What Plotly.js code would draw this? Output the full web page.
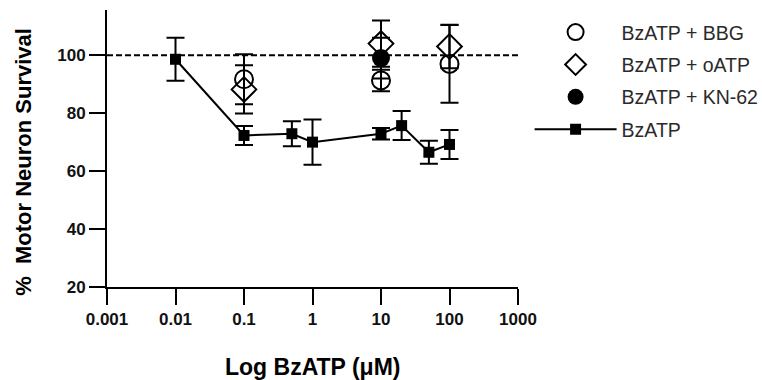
<!DOCTYPE html>
<html>
<head>
<meta charset="utf-8">
<script src="https://cdn.plot.ly/plotly-3.0.1.min.js"></script>
<style>html,body{margin:0;padding:0;background:#fff;}#chart{width:762px;height:380px;}</style>
</head>
<body>
<div id="chart"></div>
<script>
// ---- data ----
const xTickVals = [0.001, 0.01, 0.1, 1, 10, 100, 1000];
const xTickText = ["0.001", "0.01", "0.1", "1", "10", "100", "1000"];
const yTickVals = [20, 40, 60, 80, 100];

const bzX = [0.01, 0.1, 0.5, 1, 10, 20, 50, 100];
const bzY = [98.6, 72.3, 72.9, 70.0, 72.9, 75.7, 66.5, 69.2];
const bzErr = [7.4, 3.3, 4.3, 7.8, 2.0, 5.0, 4.0, 5.0];

const bbgX = [0.1, 10, 100];
const bbgY = [91.7, 91.3, 97.0];
const bbgErr = [8.6, 3.7, 13.4];

const oatpX = [0.1, 10, 100];
const oatpY = [88.2, 104.0, 103.0];
const oatpErr = [8.3, 8.0, 7.5];

const knX = [10];
const knY = [99.0];
const knErr = [7.0];

const referenceLevel = 100;

// ---- chart ----
const FONT_B = "Liberation Sans, Arial, sans-serif";
function err(arr) {
  return {type: "data", array: arr, visible: true, color: "#000", thickness: 2, width: 9};
}
const traces = [
  {
    x: bzX, y: bzY, name: "BzATP", mode: "lines+markers", type: "scatter",
    line: {color: "#000", width: 2},
    marker: {symbol: "square", size: 11, color: "#000"},
    error_y: err(bzErr), legendrank: 4, legendgroup: "d", cliponaxis: false
  },
  {
    x: bbgX, y: bbgY, name: "BzATP + BBG", mode: "markers", type: "scatter",
    marker: {symbol: "circle-open", size: 18, color: "#000", line: {width: 2, color: "#000"}},
    error_y: err(bbgErr), legendrank: 1, legendgroup: "a", cliponaxis: false
  },
  {
    x: oatpX, y: oatpY, name: "BzATP + oATP", mode: "markers", type: "scatter",
    marker: {symbol: "diamond-open", size: 19, color: "#000", line: {width: 2, color: "#000"}},
    error_y: err(oatpErr), legendrank: 2, legendgroup: "b", cliponaxis: false
  },
  {
    x: knX, y: knY, name: "BzATP + KN-62", mode: "markers", type: "scatter",
    marker: {symbol: "circle", size: 18, color: "#000"},
    error_y: err(knErr), legendrank: 3, legendgroup: "c", cliponaxis: false
  }
];

const layout = {
  width: 762, height: 380,
  margin: {l: 107, r: 244, t: 10, b: 93},
  paper_bgcolor: "#fff", plot_bgcolor: "#fff",
  showlegend: true,
  legend: {
    x: 0.695, xref: "container", y: 0.966, yref: "container", xanchor: "left", yanchor: "top",
    font: {family: "Liberation Sans, Arial, sans-serif", size: 19.5, color: "#2a2a2a"},
    tracegroupgap: 4, itemwidth: 82, bgcolor: "rgba(0,0,0,0)"
  },
  xaxis: {
    type: "log", range: [-3, 3],
    tickvals: xTickVals, ticktext: xTickText,
    showline: true, linecolor: "#000", linewidth: 2,
    ticks: "outside", ticklen: 16, tickwidth: 2, tickcolor: "#000",
    showgrid: false, zeroline: false,
    tickfont: {family: FONT_B, size: 17, color: "#111", weight: "bold"}
  },
  yaxis: {
    range: [20, 115.6],
    tickvals: yTickVals,
    showline: true, linecolor: "#000", linewidth: 2,
    ticks: "outside", ticklen: 16, tickwidth: 2, tickcolor: "#000",
    showgrid: false, zeroline: false,
    tickfont: {family: FONT_B, size: 17, color: "#111", weight: "bold"}
  },
  shapes: [{
    type: "line", xref: "paper", x0: 0, x1: 1, yref: "y", y0: referenceLevel, y1: referenceLevel,
    line: {color: "#000", width: 2, dash: "6px,3px"}, layer: "below"
  }],
  annotations: [
    {text: "Log BzATP (μM)", xref: "paper", yref: "paper", x: 0.501, y: -0.289,
     xanchor: "center", yanchor: "middle", showarrow: false,
     font: {family: FONT_B, size: 23, color: "#000", weight: "bold"}},
    {text: "%  Motor Neuron Survival", xref: "paper", yref: "paper", x: -0.205, y: 0.451,
     xanchor: "center", yanchor: "middle", showarrow: false, textangle: -90,
     font: {family: FONT_B, size: 22, color: "#000", weight: "bold"}}
  ]
};

Plotly.newPlot("chart", traces, layout, {displayModeBar: false, staticPlot: true});
</script>
</body>
</html>
